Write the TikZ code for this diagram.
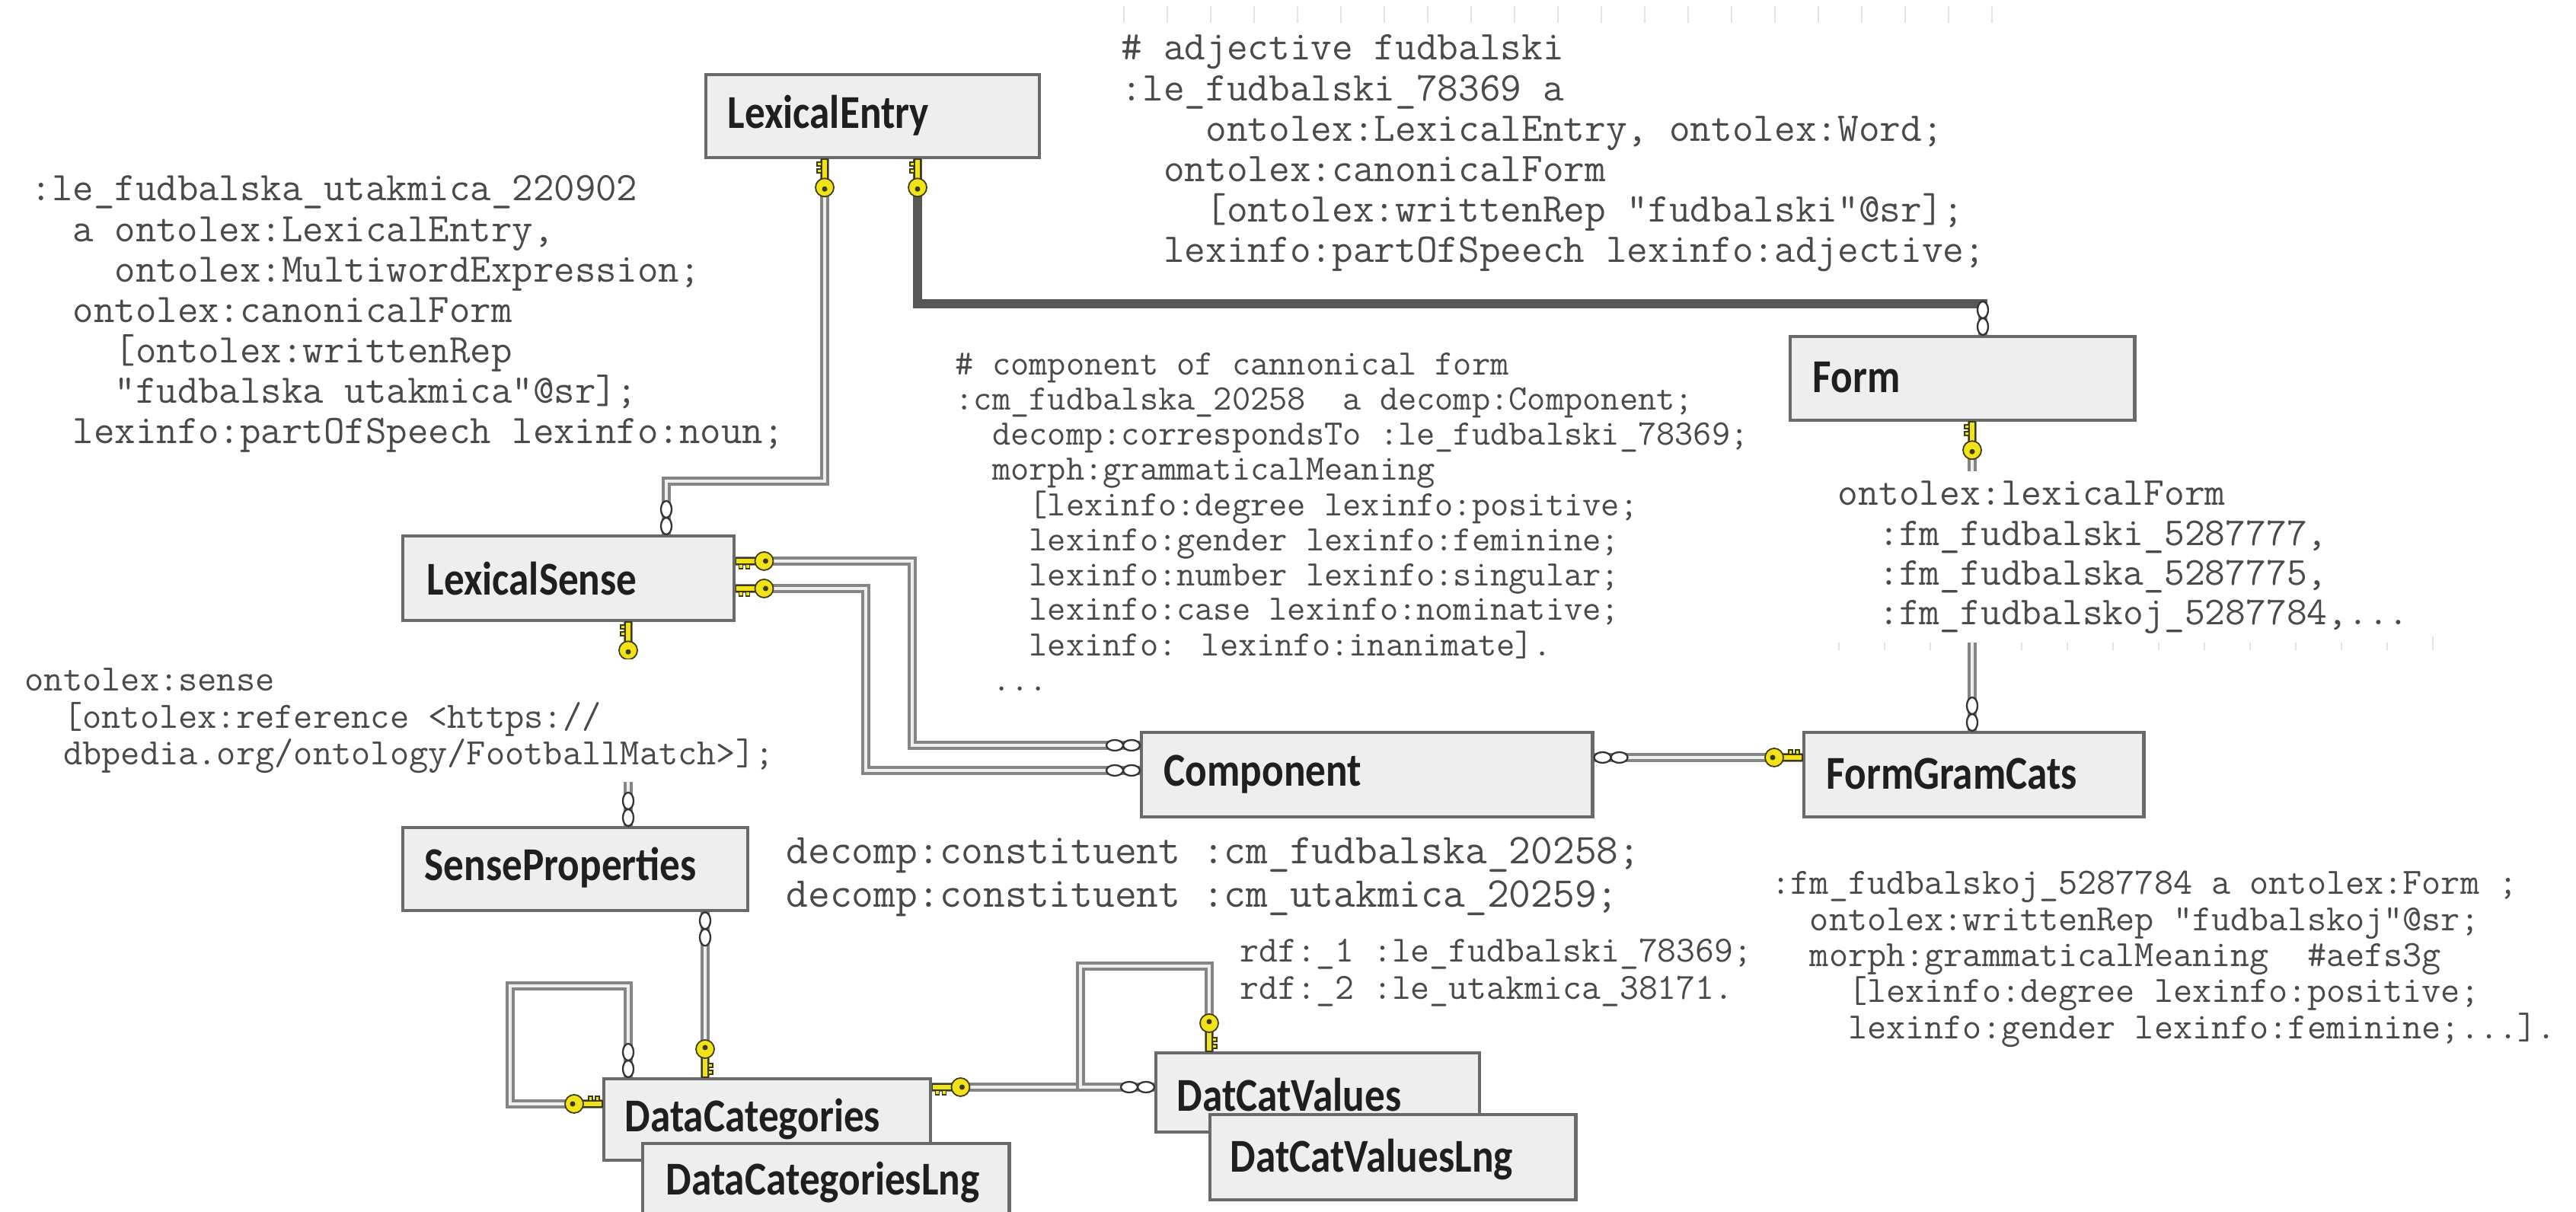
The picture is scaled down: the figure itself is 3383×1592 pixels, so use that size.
\documentclass[tikz,border=0pt]{standalone}
\usepackage{fontspec}
\newfontfamily\boxfont[FakeStretch=0.86]{Carlito}
\definecolor{codegray}{HTML}{4A4A4A}
\definecolor{boxfill}{HTML}{EEEEEE}
\definecolor{boxdraw}{HTML}{6A6A6A}
\definecolor{relgray}{HTML}{858585}
\definecolor{relcore}{HTML}{EFEFEF}
\definecolor{heavygray}{HTML}{575757}
\definecolor{keyyellow}{HTML}{F2E21A}
\definecolor{keyedge}{HTML}{3C3A10}
\definecolor{ticklight}{HTML}{E2E2E2}
\tikzset{
  ent/.style={draw=boxdraw, fill=boxfill, line width=1.2pt, rectangle, inner sep=0pt, anchor=north west},
  enttext/.style={font={\boxfont\bfseries\fontsize{17.6pt}{20pt}\selectfont}, text=black!88, anchor=west, inner sep=0pt},
  code/.style={text=codegray, inner xsep=0pt, inner ysep=2.3pt, anchor=base west},
  rel/.style={draw=relgray, line width=1.05pt, double=relcore, double distance=1.4pt},
  heavy/.style={draw=heavygray, line width=3.4pt},
  keyline/.style={draw=keyedge, fill=keyyellow, line width=0.5pt},
  zmline/.style={draw=black!80, fill=white, line width=0.65pt},
  tickmark/.style={draw=ticklight, line width=0.6pt},
  keyic/.pic={
    \draw[keyline] (0,-4) rectangle (26,4);
    \draw[keyline] (4,4) rectangle (9,10);
    \draw[keyline] (13,4) rectangle (18,10);
    \draw[keyline] (37,0) circle[radius=0.12cm];
    \fill[keyedge] (39,0) circle[radius=0.035cm];
  },
  zmany/.pic={
    \draw[zmline] (11,0) ellipse[x radius=0.11cm, y radius=0.07cm];
    \draw[zmline] (33,0) ellipse[x radius=0.11cm, y radius=0.07cm];
  }
}
\begin{document}
\begin{tikzpicture}[x=0.01cm, y=-0.01cm]
\useasboundingbox (0,0) rectangle (3383,1592);
\fill[white] (0,0) rectangle (3383,1592);

% faint scan ticks
\foreach \i in {0,...,20} \draw[tickmark] ({1476+\i*57},8) -- ++(0,22);
\foreach \i in {0,...,13} \draw[tickmark] ({2415+\i*60},836) -- ++(0,18);

% ---------------- connectors ----------------
\draw[rel] (1083,205) -- (1083,632) -- (875,632) -- (875,702);
\draw[heavy, line cap=rect] (1205,205) -- (1205,399) -- (2604,399);
\draw[rel] (2604,399) -- (2604,440);
\draw[rel] (962,737) -- (1198,737) -- (1198,979) -- (1497,979);
\draw[rel] (962,773) -- (1137,773) -- (1137,1012) -- (1497,1012);
\draw[rel] (825,813) -- (825,1085);
\draw[rel] (926,1194) -- (926,1415);
\draw[rel] (825,1415) -- (825,1295) -- (670,1295) -- (670,1450) -- (791,1450);
\draw[rel] (1220,1428) -- (1516,1428);
\draw[rel] (1588,1381) -- (1588,1269) -- (1419,1269) -- (1419,1428) -- (1516,1428);
\draw[rel] (2089,995) -- (2367,995);
\draw[rel] (2590,550) -- (2590,960);

% ---------------- entities ----------------
\node[ent, minimum width=4.38cm, minimum height=1.09cm] (LE) at (925,96) {};
\node[enttext] (LEt) at (955,152) {LexicalEntry};
\node[ent, minimum width=4.35cm, minimum height=1.11cm] (LS) at (527,702) {};
\node[enttext] (LSt) at (560,760) {LexicalSense};
\node[ent, minimum width=4.53cm, minimum height=1.09cm] (SP) at (527,1085) {};
\node[enttext] (SPt) at (557,1140) {SenseProperties};
\node[ent, minimum width=4.29cm, minimum height=1.07cm] (DC) at (791,1415) {};
\node[enttext] (DCt) at (820,1470) {DataCategories};
\node[ent, minimum width=4.81cm, minimum height=1.00cm] (DCL) at (842,1500) {};
\node[enttext] (DCLt) at (874,1553) {DataCategoriesLng};
\node[ent, minimum width=5.92cm, minimum height=1.11cm] (CO) at (1497,960) {};
\node[enttext] (COt) at (1528,1017) {Component};
\node[ent, minimum width=4.46cm, minimum height=1.11cm] (FG) at (2367,960) {};
\node[enttext] (FGt) at (2398,1016) {FormGramCats};
\node[ent, minimum width=4.52cm, minimum height=1.10cm] (FO) at (2349,440) {};
\node[enttext] (FOt) at (2380,496) {Form};
\node[ent, minimum width=4.25cm, minimum height=1.04cm] (DV) at (1516,1381) {};
\node[enttext] (DVt) at (1545,1438) {DatCatValues};
\node[ent, minimum width=4.80cm, minimum height=1.12cm] (DVL) at (1587,1462) {};
\node[enttext] (DVLt) at (1615,1523) {DatCatValuesLng};

% ---------------- end symbols ----------------
\pic[rotate=-90] at (1083,0 |- LE.south) {keyic};
\pic[rotate=-90] at (1205,0 |- LE.south) {keyic};
\pic[rotate=90] at (875,0 |- LS.north) {zmany};
\pic[rotate=90] at (2604,0 |- FO.north) {zmany};
\pic at (LS.east |- 0,737) {keyic};
\pic at (LS.east |- 0,773) {keyic};
\pic[rotate=180] at (CO.west |- 0,979) {zmany};
\pic[rotate=180] at (CO.west |- 0,1012) {zmany};
\pic[rotate=-90] at (825,0 |- LS.south) {keyic};
\pic[rotate=90] at (825,0 |- SP.north) {zmany};
\pic[rotate=-90] at (926,0 |- SP.south) {zmany};
\pic[rotate=90] at (926,0 |- DC.north) {keyic};
\pic[rotate=90] at (825,0 |- DC.north) {zmany};
\pic[rotate=180] at (DC.west |- 0,1450) {keyic};
\pic at (DC.east |- 0,1428) {keyic};
\pic[rotate=180] at (DV.west |- 0,1428) {zmany};
\pic[rotate=90] at (1588,0 |- DV.north) {keyic};
\pic at (CO.east |- 0,995) {zmany};
\pic[rotate=180] at (FG.west |- 0,995) {keyic};
\pic[rotate=-90] at (2590,0 |- FO.south) {keyic};
\pic[rotate=90] at (2590,0 |- FG.north) {zmany};

% ---------------- code texts ----------------
\node[code, font={\ttfamily\fontsize{15.17pt}{15.08pt}\selectfont}] (tMulti) at (40,264) {\begin{tabular}[t]{@{}l@{}}
:le\_fudbalska\_utakmica\_220902\\
\phantom{aa}a ontolex:LexicalEntry,\\
\phantom{aaaa}ontolex:MultiwordExpression;\\
\phantom{aa}ontolex:canonicalForm\\
\phantom{aaaa}[ontolex:writtenRep\\
\phantom{aaaa}"fudbalska utakmica"@sr];\\
\phantom{aa}lexinfo:partOfSpeech lexinfo:noun;
\end{tabular}};

\node[code, font={\ttfamily\fontsize{15.28pt}{15.08pt}\selectfont}] (tAdj) at (1472,79) {\begin{tabular}[t]{@{}l@{}}
\# adjective fudbalski\\
:le\_fudbalski\_78369 a\\
\phantom{aaaa}ontolex:LexicalEntry, ontolex:Word;\\
\phantom{aa}ontolex:canonicalForm\\
\phantom{aaaa}[ontolex:writtenRep "fudbalski"@sr];\\
\phantom{aa}lexinfo:partOfSpeech lexinfo:adjective;
\end{tabular}};

\node[code, font={\ttfamily\fontsize{13.38pt}{13.06pt}\selectfont}] (tComp) at (1254,493) {\begin{tabular}[t]{@{}l@{}}
\# component of cannonical form\\
:cm\_fudbalska\_20258\ \ a decomp:Component;\\
\phantom{aa}decomp:correspondsTo :le\_fudbalski\_78369;\\
\phantom{aa}morph:grammaticalMeaning\\
\phantom{aaaa}[lexinfo:degree lexinfo:positive;\\
\phantom{aaaa}lexinfo:gender lexinfo:feminine;\\
\phantom{aaaa}lexinfo:number lexinfo:singular;\\
\phantom{aaaa}lexinfo:case lexinfo:nominative;\\
\phantom{aaaa}lexinfo: lexinfo:inanimate].\\
\phantom{aa}...
\end{tabular}};

\node[code, fill=white, font={\ttfamily\fontsize{13.93pt}{13.66pt}\selectfont}] (tSense) at (32,908) {\begin{tabular}[t]{@{}l@{}}
ontolex:sense\\
\phantom{aa}[ontolex:reference <https://\\
\phantom{aa}dbpedia.org/ontology/FootballMatch>];
\end{tabular}};

\node[code, font={\ttfamily\fontsize{15.88pt}{15.93pt}\selectfont}] (tConst) at (1032,1135) {\begin{tabular}[t]{@{}l@{}}
decomp:constituent :cm\_fudbalska\_20258;\\
decomp:constituent :cm\_utakmica\_20259;
\end{tabular}};

\node[code, font={\ttfamily\fontsize{13.76pt}{13.66pt}\selectfont}] (tRdf) at (1628,1264) {\begin{tabular}[t]{@{}l@{}}
rdf:\_1 :le\_fudbalski\_78369;\\
rdf:\_2 :le\_utakmica\_38171.
\end{tabular}};

\node[code, fill=white, font={\ttfamily\fontsize{14.79pt}{14.8pt}\selectfont}] (tLexForm) at (2413,664) {\begin{tabular}[t]{@{}l@{}}
ontolex:lexicalForm\\
\phantom{aa}:fm\_fudbalski\_5287777,\\
\phantom{aa}:fm\_fudbalska\_5287775,\\
\phantom{aa}:fm\_fudbalskoj\_5287784,...
\end{tabular}};

\node[code, font={\ttfamily\fontsize{13.87pt}{13.37pt}\selectfont}] (tForm) at (2326,1175) {\begin{tabular}[t]{@{}l@{}}
:fm\_fudbalskoj\_5287784 a ontolex:Form ;\\
\phantom{aa}ontolex:writtenRep "fudbalskoj"@sr;\\
\phantom{aa}morph:grammaticalMeaning\ \ \#aefs3g\\
\phantom{aaaa}[lexinfo:degree lexinfo:positive;\\
\phantom{aaaa}lexinfo:gender lexinfo:feminine;...].
\end{tabular}};
\end{tikzpicture}
\end{document}
